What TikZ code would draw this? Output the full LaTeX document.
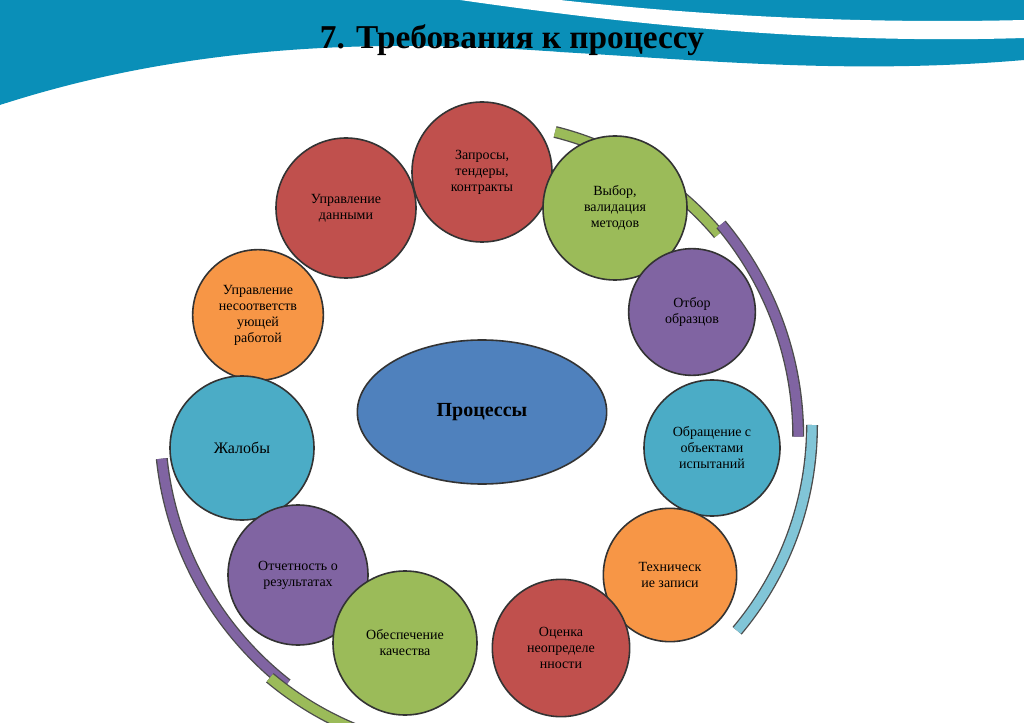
\documentclass[tikz,border=0pt]{standalone}
\usepackage{fontspec}
\setmainfont{Liberation Serif}
\usetikzlibrary{shapes.geometric}
\begin{document}
\begin{tikzpicture}[x=0.75pt,y=-0.75pt,
  ball/.style={circle,draw=black!80,line width=1.2pt,align=center,font=\fontsize{10.5}{12}\selectfont,inner sep=0pt},
  band/.style={line width=9pt,draw=black!70},
]
\definecolor{cred}{HTML}{C0504D}\definecolor{cgreen}{HTML}{9BBB59}
\definecolor{cpurple}{HTML}{8064A2}\definecolor{corange}{HTML}{F79646}
\definecolor{cteal}{HTML}{4BACC6}\definecolor{cblue}{HTML}{4F81BD}
\definecolor{wave}{HTML}{0A8FB8}
\useasboundingbox (0,0) rectangle (1024,723);
\fill[white] (0,0) rectangle (1024,723);
% header wave
\fill[wave] (0,0) -- (1024,0) -- (1024,60) .. controls (850,75) and (700,60) .. (560,52) .. controls (400,40) and (200,40) .. (0,105) -- cycle;
\fill[white] (460,0) .. controls (600,20) and (800,45) .. (1024,38) -- (1024,20) .. controls (820,25) and (650,10) .. (560,0) -- cycle;
\fill[white, opacity=0.6] (0,105) .. controls (200,50) and (400,45) .. (560,52) -- (560,57) .. controls (400,52) and (200,60) .. (0,110) -- cycle;
\node[font=\bfseries\fontsize{25}{27}\selectfont] (title) at (512,40) {7. Требования к процессу};
% bands
\begin{scope}[shift={(482,425)}]
\draw[band] (-76:302) arc (-76:-40:312);
\draw[line width=7pt,cgreen] (-76:302) arc (-76:-40:312);
\draw[band] (-40:312) arc (-40:0:330);
\draw[line width=7pt,cpurple] (-40:312) arc (-40:0:330);
\draw[band] (0:330) arc (0:40:320);
\draw[line width=7pt,cteal!70] (0:330) arc (0:40:320);
\draw[band] (174:322) arc (174:128:330);
\draw[line width=7pt,cpurple] (174:322) arc (174:128:330);
\draw[band] (130:330) arc (130:112:325);
\draw[line width=7pt,cgreen] (130:330) arc (130:112:325);
\end{scope}
% center
\node[ellipse,minimum width=187pt,minimum height=108pt,fill=cblue,draw=black!80,line width=1.2pt,font=\bfseries\fontsize{15}{17}\selectfont] (c) at (482,412) {Процессы};
\node[ball,fill=cred,minimum size=105pt] (a1) at (482,172) {Запросы,\\тендеры,\\контракты};
\node[ball,fill=cgreen,minimum size=108pt] (a2) at (615,208) {Выбор,\\валидация\\методов};
\node[ball,fill=cred,minimum size=105pt] (a12) at (346,208) {Управление\\данными};
\node[ball,fill=corange,minimum size=98pt] (a11) at (258,315) {Управление\\несоответств\\ующей\\работой};
\node[ball,fill=cpurple,minimum size=95pt] (a3) at (692,312) {Отбор\\образцов};
\node[ball,fill=cteal,minimum size=108pt,font=\fontsize{12}{14}\selectfont] (a10) at (242,448) {Жалобы};
\node[ball,fill=cteal,minimum size=102pt] (a4) at (712,448) {Обращение с\\объектами\\испытаний};
\node[ball,fill=cpurple,minimum size=105pt] (a9) at (298,575) {Отчетность о\\результатах};
\node[ball,fill=corange,minimum size=100pt] (a5) at (670,575) {Техническ\\ие записи};
\node[ball,fill=cred,minimum size=103pt] (a6) at (561,648) {Оценка\\неопределе\\нности};
\node[ball,fill=cgreen,minimum size=108pt] (a8) at (405,643) {Обеспечение\\качества};
\end{tikzpicture}
\end{document}
